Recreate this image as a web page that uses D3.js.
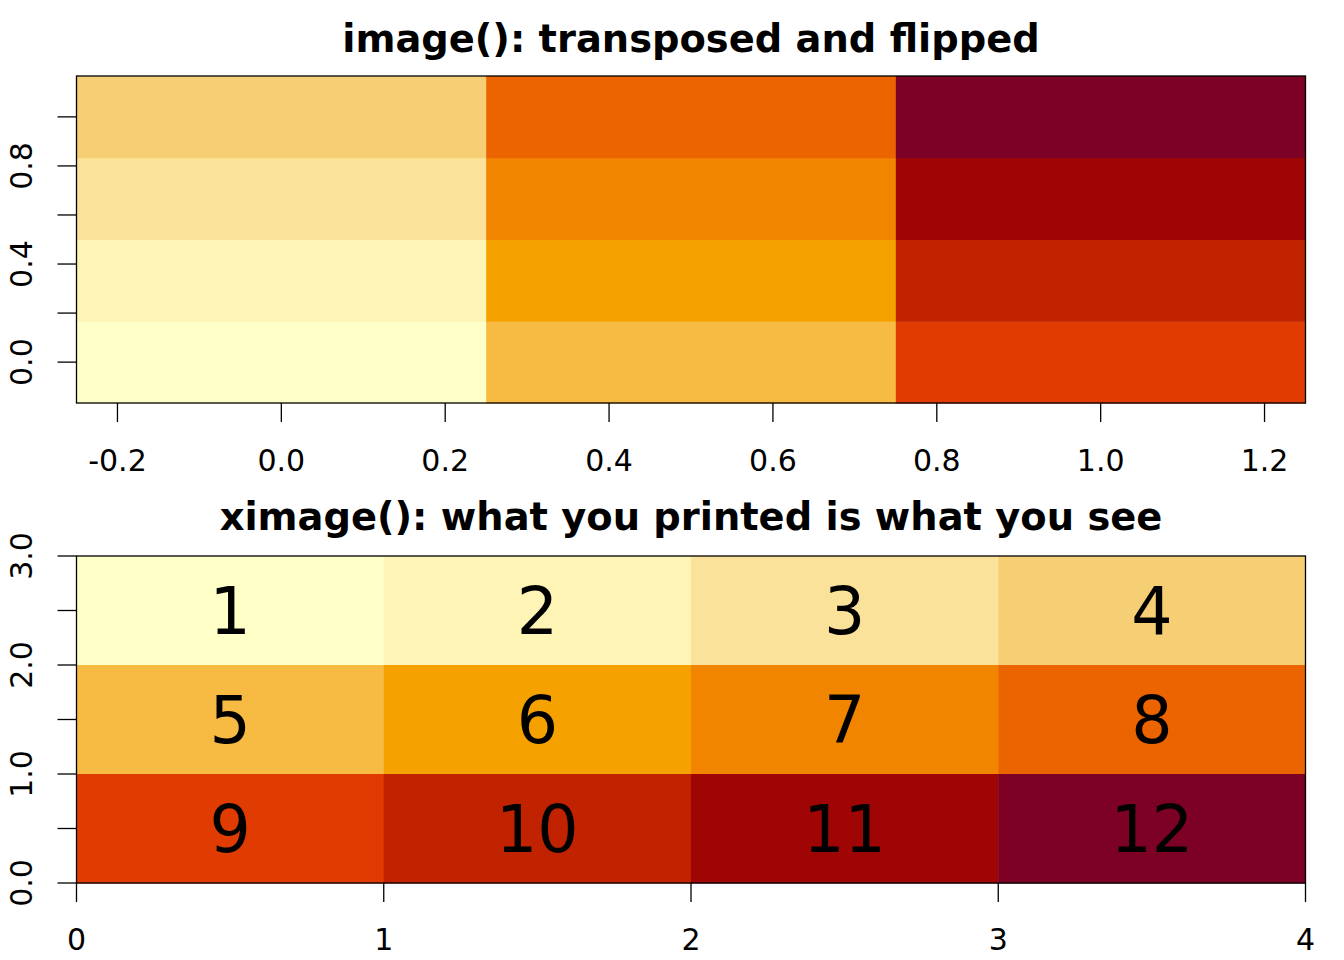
<!DOCTYPE html>
<html><head><meta charset="utf-8">
<script src="https://cdn.jsdelivr.net/npm/d3@7"></script>
<style>body{margin:0;background:#fff}svg text{font-family:"DejaVu Sans",sans-serif}</style>
</head><body>
<svg id="c" width="1344" height="960"></svg>
<script>
// data: matrix 3 rows x 4 cols, values 1..12
const rows = [1, 2, 3];
const cols = [1, 2, 3, 4];
const values = [[1,2,3,4],[5,6,7,8],[9,10,11,12]];
const palette = ["#FFFFC8","#FEF4B5","#FAE29A","#F6CE73","#F7BA42","#F5A200",
                 "#F28500","#EC6400","#E03B00","#C12200","#A00505","#7D0025"];
const topXTicks = [-0.2,0,0.2,0.4,0.6,0.8,1.0,1.2];
const topYTicks = [0,0.2,0.4,0.6,0.8,1.0];
const topYLabels = [0,0.4,0.8];
const botXTicks = [0,1,2,3,4];
const botYTicks = [0,0.5,1,1.5,2,2.5,3];
const botYLabels = [0,1,2,3];
const titles = ["image(): transposed and flipped","ximage(): what you printed is what you see"];

const svg = d3.select("#c");
const L = 76.5, R = 1305.5;
const color = d3.scaleOrdinal().domain(d3.range(1,13)).range(palette);
const tickLen = 19, fs = 30;
const f1 = d => d.toFixed(1);

function frame(g, x, y){
  const [x0,x1] = x.range(), [y0,y1] = y.range();
  g.append("rect").attr("x",x0).attr("y",y1).attr("width",x1-x0).attr("height",y0-y1)
   .attr("fill","none").attr("stroke","#000").attr("stroke-width",1.3);
}
function xAxis(g, x, y, ticks, fmt, labelDy){
  const yb = y.range()[0];
  const a = g.append("g");
  a.selectAll("line").data(ticks).join("line")
   .attr("x1",d=>x(d)).attr("x2",d=>x(d)).attr("y1",yb).attr("y2",yb+tickLen)
   .attr("stroke","#000").attr("stroke-width",1.3);
  a.selectAll("text").data(ticks).join("text")
   .attr("x",d=>x(d)).attr("y",yb+labelDy).attr("text-anchor","middle")
   .attr("font-size",fs).text(fmt);
}
function yAxis(g, x, y, ticks, labels, fmt){
  const xl = x.range()[0];
  const a = g.append("g");
  a.selectAll("line").data(ticks).join("line")
   .attr("x1",xl).attr("x2",xl-tickLen).attr("y1",d=>y(d)).attr("y2",d=>y(d))
   .attr("stroke","#000").attr("stroke-width",1.3);
  a.selectAll("text").data(labels).join("text")
   .attr("transform",d=>`translate(32,${y(d)}) rotate(-90)`)
   .attr("text-anchor","middle").attr("font-size",fs).text(fmt);
}

// ---- top panel: image() ----
{
  const g = svg.append("g");
  const x = d3.scaleLinear().domain([-0.25,1.25]).range([L,R]);
  const y = d3.scaleLinear().domain([-1/6,7/6]).range([403,76]);
  const cells = [];
  rows.forEach((r,i)=>cols.forEach((c,j)=>cells.push({xc:i/(rows.length-1), yc:j/(cols.length-1), v:values[i][j]})));
  const hw = 0.5/(rows.length-1), hh = 0.5/(cols.length-1);
  g.selectAll("rect.cell").data(cells).join("rect").attr("class","cell")
   .attr("x",d=>x(d.xc-hw)).attr("width",d=>x(d.xc+hw)-x(d.xc-hw)+0.5)
   .attr("y",d=>y(d.yc+hh)).attr("height",d=>y(d.yc-hh)-y(d.yc+hh)+0.5)
   .attr("fill",d=>color(d.v));
  frame(g,x,y);
  xAxis(g,x,y,topXTicks,f1,68);
  yAxis(g,x,y,topYTicks,topYLabels,f1);
  g.append("text").attr("x",(L+R)/2).attr("y",52).attr("text-anchor","middle")
   .attr("font-size",38.4).attr("font-weight","bold").text(titles[0]);
}
// ---- bottom panel: ximage() ----
{
  const g = svg.append("g");
  const x = d3.scaleLinear().domain([0,4]).range([L,R]);
  const y = d3.scaleLinear().domain([0,3]).range([883,556]);
  const cells = [];
  rows.forEach((r,i)=>cols.forEach((c,j)=>cells.push({col:j, row:i, v:values[i][j]})));
  const nr = rows.length;
  g.selectAll("rect.cell").data(cells).join("rect").attr("class","cell")
   .attr("x",d=>x(d.col)).attr("width",d=>x(d.col+1)-x(d.col)+0.5)
   .attr("y",d=>y(nr-d.row)).attr("height",d=>y(nr-d.row-1)-y(nr-d.row)+0.5)
   .attr("fill",d=>color(d.v));
  g.selectAll("text.num").data(cells).join("text").attr("class","num")
   .attr("x",d=>x(d.col+0.5)).attr("y",d=>y(nr-d.row-0.5)+23.5)
   .attr("text-anchor","middle").attr("font-size",65).text(d=>d.v);
  frame(g,x,y);
  xAxis(g,x,y,botXTicks,d3.format("d"),67);
  yAxis(g,x,y,botYTicks,botYLabels,f1);
  g.append("text").attr("x",(L+R)/2).attr("y",530).attr("text-anchor","middle")
   .attr("font-size",38.4).attr("font-weight","bold").text(titles[1]);
}
</script>
</body></html>
